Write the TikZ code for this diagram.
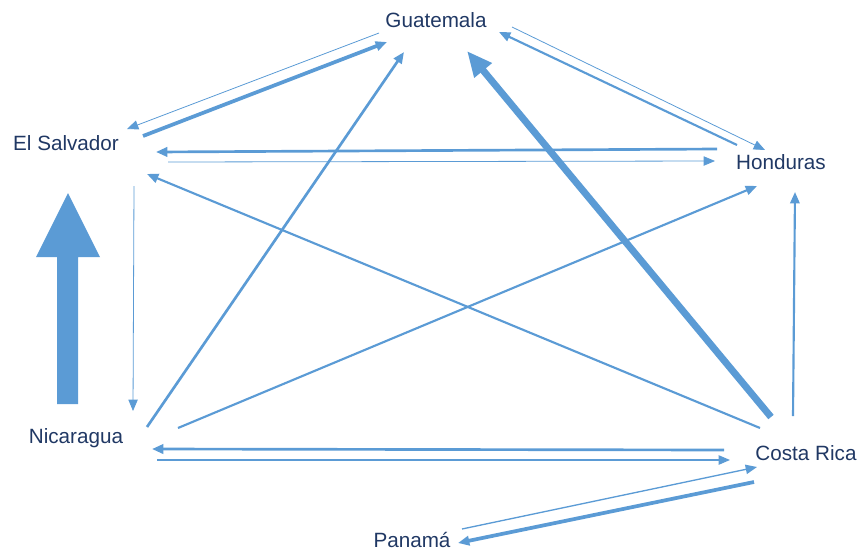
\documentclass[tikz,border=0pt]{standalone}
\usepackage{fontspec}
\setmainfont{Liberation Sans}
\usepackage{xcolor}
\usepackage{tikz}
\usetikzlibrary{arrows.meta}
\definecolor{flowblue}{RGB}{91,155,213}
\definecolor{namenavy}{RGB}{32,56,100}

\begin{document}
\begin{tikzpicture}[
            x=0.75pt, y=-0.75pt,
            >={Triangle[length=8.5pt,width=7pt]},
            country/.style={font=\fontsize{15.5}{18}\selectfont, text=namenavy, inner sep=0pt},
            flow/.style={draw=flowblue, ->},
            f1/.style={flow, line width=0.6pt},
            f2/.style={flow, line width=1pt},
            f3/.style={flow, line width=1.6pt},
            f4/.style={flow, line width=2pt},
            f5/.style={flow, line width=2.8pt},
            f6/.style={flow, line width=5.2pt, -{Triangle[length=19pt,width=16pt]}}
        ]
            \useasboundingbox (0,0) rectangle (859,550);
            % countries
            \node[country] (gua) at (436,20) {Guatemala};
            \node[country] (els) at (66,143) {El Salvador};
            \node[country] (hon) at (781,162) {Honduras};
            \node[country] (nic) at (76,438) {Nicaragua};
            \node[country] (cr) at (806,453) {Costa Rica};
            \node[country] (pan) at (412,540) {Panamá};
            % flows into Guatemala
            \draw[f5] ([shift={(77,-7)}]els.center) -- ([shift={(-49,22)}]gua.center);
            \draw[f4] ([shift={(71,-11)}]nic.center) -- ([shift={(-32,32)}]gua.center);
            \draw[f6] ([shift={(-35,-36)}]cr.center) -- ([shift={(31,31)}]gua.center);
            \draw[f3] ([shift={(-44,-17)}]hon.center) -- ([shift={(63,12)}]gua.center);
            % flows out of Guatemala
            \draw[f1] ([shift={(-57,13)}]gua.center) -- ([shift={(61,-14)}]els.center);
            \draw[f1] ([shift={(76,7)}]gua.center) -- ([shift={(-16,-12)}]hon.center);
            % El Salvador and Honduras
            \draw[f4] ([shift={(-64,-13)}]hon.center) -- ([shift={(90,9)}]els.center);
            \draw[f1] ([shift={(102,19)}]els.center) -- ([shift={(-66,-1)}]hon.center);
            % crossing flows
            \draw[f3] ([shift={(-46,-25)}]cr.center) -- ([shift={(81,31)}]els.center);
            \draw[f3] ([shift={(102,-10)}]nic.center) -- ([shift={(-24,24)}]hon.center);
            \draw[f1] ([shift={(68,43)}]els.center) -- ([shift={(57,-27)}]nic.center);
            \draw[f3] ([shift={(-13,-37)}]cr.center) -- ([shift={(14,30)}]hon.center);
            % Nicaragua and Costa Rica
            \draw[f4] ([shift={(-82,-3)}]cr.center) -- ([shift={(76,11)}]nic.center);
            \draw[f2] ([shift={(81,22)}]nic.center) -- ([shift={(-76,7)}]cr.center);
            % Panama
            \draw[f2] ([shift={(50,-11)}]pan.center) -- ([shift={(-49,14)}]cr.center);
            \draw[f5] ([shift={(-52,29)}]cr.center) -- ([shift={(46,3)}]pan.center);
            % north arrow
            \fill[flowblue] (57,404) -- (57,257) -- (36,257) -- (68,193) -- (100,257)
                -- (78,257) -- (78,404) -- cycle;
        \end{tikzpicture}
\end{document}
